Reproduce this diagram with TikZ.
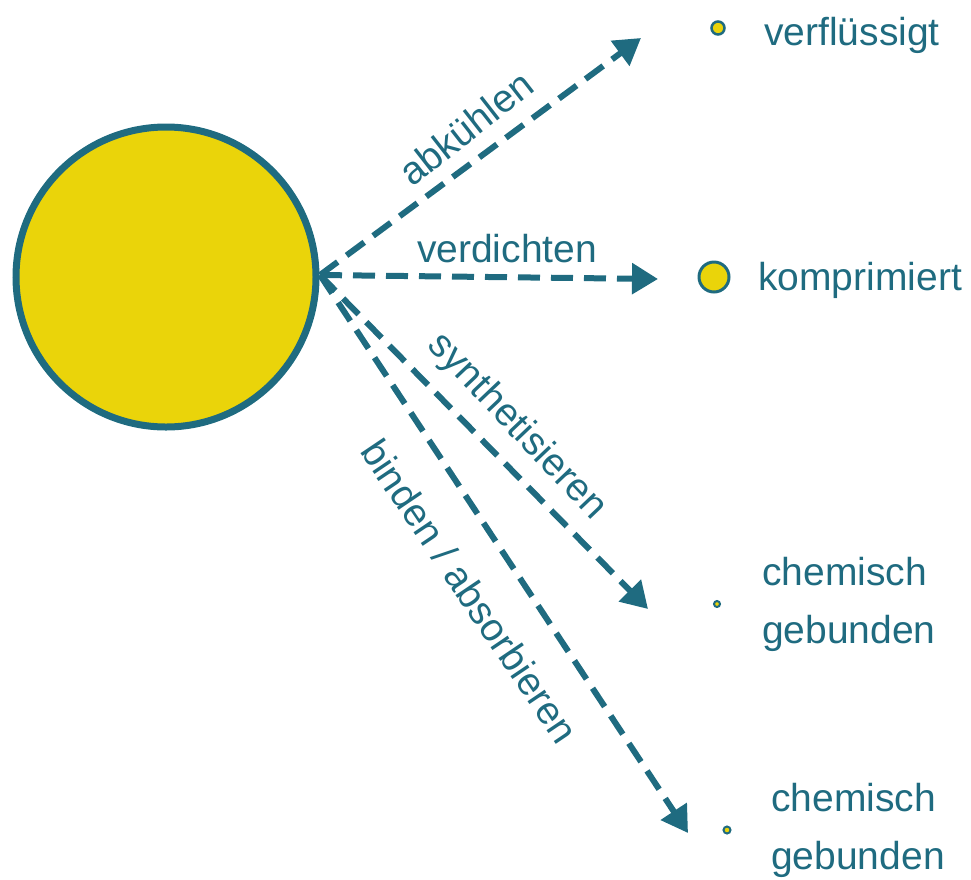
\documentclass[tikz,border=0pt]{standalone}
\usepackage{fontspec}
\setmainfont{Liberation Sans}
\usetikzlibrary{arrows.meta}
\definecolor{teal}{HTML}{1F6B80}
\definecolor{sun}{HTML}{EAD40A}
\begin{document}
\begin{tikzpicture}[x=1pt,y=-1pt,
  lbl/.style={text=teal,font=\fontsize{39}{45}\selectfont,inner sep=0pt},
  two/.style={lbl,align=left,anchor=west,font=\fontsize{39}{58}\selectfont},
  dot/.style={circle,draw=teal,fill=sun,inner sep=0pt},
  flow/.style={draw=teal,line width=6pt,dash pattern=on 22pt off 11pt,-{Triangle[length=26pt,width=30pt]}}]
\useasboundingbox (0,0) rectangle (971,879);
\node[dot,line width=7pt,minimum size=300pt] (gas) at (166,277) {};
\coordinate (src) at (320,275);
\node[dot,line width=2.5pt,minimum size=13pt] (d1) at (718,28) {};
\node[dot,line width=3pt,minimum size=30pt] (d2) at (714,277) {};
\node[dot,line width=2pt,minimum size=6pt] (d3) at (717,604) {};
\node[dot,line width=2pt,minimum size=7pt] (d4) at (727,830) {};
\coordinate (e1) at (641,38);
\coordinate (e2) at (658,279);
\coordinate (e3) at (648,609);
\coordinate (e4) at (688,833);
\draw[flow] (src) -- (e1);
\draw[flow] (src) -- (e2);
\draw[flow] (src) -- (e3);
\draw[flow] (src) -- (e4);
\node[lbl,rotate=38] (l1) at (466,128) {abkühlen};
\node[lbl] (l2) at (507,249) {verdichten};
\node[lbl,rotate=-46.5] (l3) at (517,427) {synthetisieren};
\node[lbl,rotate=-56] (l4) at (470,591) {binden / absorbieren};
\node[lbl,anchor=west] (t1) at (764,35) {verflüssigt};
\node[lbl,anchor=west] (t2) at (758,280) {komprimiert};
\node[two] (t3) at (762,604) {chemisch\\gebunden};
\node[two] (t4) at (771,830) {chemisch\\gebunden};
\end{tikzpicture}
\end{document}
